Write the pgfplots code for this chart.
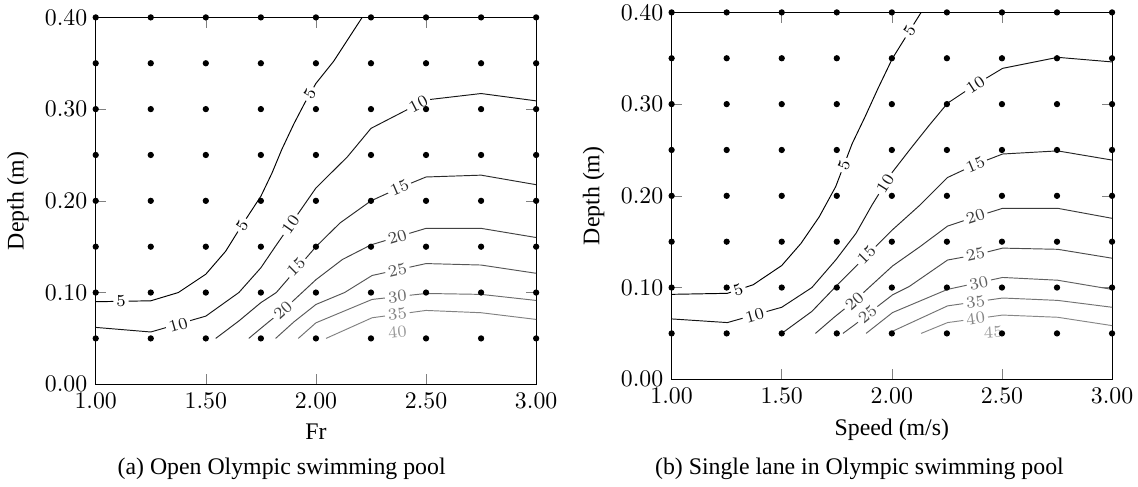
\documentclass[border=0pt]{standalone}
\usepackage{fontspec}
\setmainfont{Liberation Serif}
\usepackage{pgfplots}
\pgfplotsset{compat=1.18}

\newcommand{\clab}[6]{\addplot[draw=none,mark=none] coordinates {(#1,#2) (#3,#4)} node[pos=0.5,sloped,fill=white,inner sep=1.2pt,font=\scriptsize,text=#5]{$#6$};}

\newcommand{\griddots}{%
\addplot[only marks, mark=*, mark size=1.1pt, black] coordinates {
(1.00,0.05) (1.25,0.05) (1.50,0.05) (1.75,0.05) (2.00,0.05) (2.25,0.05) (2.50,0.05) (2.75,0.05) (3.00,0.05)
(1.00,0.10) (1.25,0.10) (1.50,0.10) (1.75,0.10) (2.00,0.10) (2.25,0.10) (2.50,0.10) (2.75,0.10) (3.00,0.10)
(1.00,0.15) (1.25,0.15) (1.50,0.15) (1.75,0.15) (2.00,0.15) (2.25,0.15) (2.50,0.15) (2.75,0.15) (3.00,0.15)
(1.00,0.20) (1.25,0.20) (1.50,0.20) (1.75,0.20) (2.00,0.20) (2.25,0.20) (2.50,0.20) (2.75,0.20) (3.00,0.20)
(1.00,0.25) (1.25,0.25) (1.50,0.25) (1.75,0.25) (2.00,0.25) (2.25,0.25) (2.50,0.25) (2.75,0.25) (3.00,0.25)
(1.00,0.30) (1.25,0.30) (1.50,0.30) (1.75,0.30) (2.00,0.30) (2.25,0.30) (2.50,0.30) (2.75,0.30) (3.00,0.30)
(1.00,0.35) (1.25,0.35) (1.50,0.35) (1.75,0.35) (2.00,0.35) (2.25,0.35) (2.50,0.35) (2.75,0.35) (3.00,0.35)
(1.00,0.40) (1.25,0.40) (1.50,0.40) (1.75,0.40) (2.00,0.40) (2.25,0.40) (2.50,0.40) (2.75,0.40) (3.00,0.40)
};}

\pgfplotsset{
  myaxis/.style={
    scale only axis, width=185pt, height=154.1pt,
    xmin=1, xmax=3, ymin=0, ymax=0.4,
    xtick={1,1.5,2,2.5,3}, ytick={0,0.1,0.2,0.3,0.4},
    xticklabel={\pgfmathprintnumber[fixed,fixed zerofill,precision=2]{\tick}},
    yticklabel={\pgfmathprintnumber[fixed,fixed zerofill,precision=2]{\tick}},
    tick style={color=gray},
    ylabel={Depth (m)},
    clip=false,
  },
}

\begin{document}
\begin{tikzpicture}
\useasboundingbox (-40.2pt,-43.1pt) rectangle (437.8pt,161.4pt);

% ---------------- (a) ----------------
\begin{axis}[myaxis, xlabel={Fr}]
\addplot[black] coordinates {(1.00,0.090) (1.25,0.091) (1.375,0.100) (1.50,0.120) (1.59,0.145) (1.66,0.172) (1.75,0.205) (1.80,0.230) (1.845,0.256) (1.90,0.284) (1.95,0.307) (2.00,0.328) (2.08,0.352) (2.21,0.40)};
\addplot[black!91] coordinates {(1.00,0.062) (1.25,0.057) (1.50,0.0743) (1.65,0.100) (1.75,0.127) (1.815,0.150) (2.00,0.214) (2.143,0.248) (2.25,0.279) (2.50,0.310) (2.75,0.317) (3.00,0.309)};
\addplot[black!83] coordinates {(1.545,0.05) (1.65,0.069) (1.75,0.089) (1.82,0.100) (2.00,0.150) (2.11,0.176) (2.25,0.200) (2.378,0.214) (2.50,0.226) (2.75,0.228) (3.00,0.2176)};
\addplot[black!74] coordinates {(1.695,0.05) (1.76,0.063) (1.852,0.081) (2.00,0.114) (2.12,0.136) (2.25,0.152) (2.50,0.170) (2.75,0.170) (3.00,0.160)};
\addplot[black!66] coordinates {(1.817,0.05) (1.90,0.068) (2.00,0.087) (2.13,0.100) (2.255,0.1186) (2.50,0.1316) (2.75,0.130) (3.00,0.121)};
\addplot[black!57] coordinates {(1.92,0.05) (2.00,0.067) (2.255,0.0925) (2.50,0.099) (2.75,0.098) (3.00,0.0914)};
\addplot[black!49] coordinates {(2.046,0.05) (2.255,0.0725) (2.50,0.0805) (2.75,0.078) (3.00,0.0707)};
\clab{1.08}{0.0904}{1.15}{0.0907}{black}{5}
\clab{1.62}{0.1566}{1.71}{0.1903}{black}{5}
\clab{1.945}{0.305}{2.00}{0.328}{black}{5}
\clab{1.33}{0.0615}{1.42}{0.0677}{black!91}{10}
\clab{1.85}{0.162}{1.92}{0.186}{black!91}{10}
\clab{2.43}{0.3013}{2.50}{0.310}{black!91}{10}
\clab{1.87}{0.1185}{1.95}{0.1375}{black!83}{15}
\clab{2.34}{0.2098}{2.42}{0.2181}{black!83}{15}
\clab{1.81}{0.0723}{1.89}{0.0894}{black!74}{20}
\clab{2.33}{0.1578}{2.41}{0.1635}{black!74}{20}
\clab{2.33}{0.1225}{2.41}{0.1268}{black!66}{25}
\clab{2.33}{0.0945}{2.41}{0.0966}{black!57}{30}
\clab{2.33}{0.0750}{2.41}{0.0776}{black!49}{35}
\clab{2.33}{0.0560}{2.41}{0.0580}{black!40}{40}
\griddots
\end{axis}
\node[anchor=base] at (78.1pt,-38.1pt) {(a) Open Olympic swimming pool};

% ---------------- (b) ----------------
\begin{axis}[myaxis, xlabel={Speed (m/s)}, at={(241.9pt,2.1pt)}]
\addplot[black] coordinates {(1.00,0.0926) (1.253,0.0937) (1.37,0.103) (1.50,0.124) (1.587,0.148) (1.67,0.177) (1.745,0.210) (1.82,0.257) (1.878,0.286) (1.937,0.317) (2.003,0.350) (2.133,0.40)};
\addplot[black!92] coordinates {(1.00,0.0658) (1.253,0.0618) (1.50,0.0785) (1.637,0.100) (1.745,0.130) (1.837,0.159) (1.91,0.19) (2.003,0.226) (2.087,0.252) (2.17,0.277) (2.253,0.301) (2.378,0.321) (2.503,0.339) (2.753,0.351) (3.00,0.346)};
\addplot[black!85] coordinates {(1.50,0.050) (1.637,0.074) (1.745,0.101) (2.003,0.163) (2.128,0.190) (2.253,0.220) (2.378,0.234) (2.503,0.2456) (2.753,0.249) (3.00,0.239)};
\addplot[black!77] coordinates {(1.653,0.050) (1.74,0.068) (1.828,0.085) (2.003,0.1235) (2.128,0.1446) (2.253,0.167) (2.378,0.177) (2.503,0.1864) (2.753,0.1864) (3.00,0.1755)};
\addplot[black!70] coordinates {(1.778,0.050) (1.84,0.061) (1.895,0.072) (2.003,0.092) (2.078,0.101) (2.253,0.130) (2.378,0.1355) (2.503,0.143) (2.753,0.1417) (3.00,0.132)};
\addplot[black!62] coordinates {(1.883,0.050) (2.003,0.0727) (2.253,0.098) (2.503,0.111) (2.753,0.108) (3.00,0.098)};
\addplot[black!55] coordinates {(2.00,0.052) (2.253,0.080) (2.503,0.0886) (2.753,0.086) (3.00,0.0785)};
\addplot[black!47] coordinates {(2.133,0.050) (2.253,0.0618) (2.503,0.070) (2.753,0.0676) (3.00,0.0585)};
\clab{1.27}{0.0951}{1.335}{0.1003}{black}{5}
\clab{1.765}{0.2225}{1.80}{0.2445}{black}{5}
\clab{2.06}{0.372}{2.10}{0.3875}{black}{5}
\clab{1.345}{0.0675}{1.41}{0.0719}{black!92}{10}
\clab{1.95}{0.2058}{1.99}{0.221}{black!92}{10}
\clab{2.34}{0.315}{2.42}{0.3276}{black!92}{10}
\clab{1.85}{0.1271}{1.92}{0.1440}{black!85}{15}
\clab{2.34}{0.2297}{2.42}{0.2379}{black!85}{15}
\clab{1.79}{0.0766}{1.87}{0.0935}{black!77}{20}
\clab{2.34}{0.1740}{2.42}{0.1802}{black!77}{20}
\clab{1.86}{0.0650}{1.92}{0.0766}{black!70}{25}
\clab{2.34}{0.1338}{2.42}{0.1379}{black!70}{25}
\clab{2.355}{0.1031}{2.435}{0.1073}{black!62}{30}
\clab{2.34}{0.0828}{2.42}{0.0855}{black!55}{35}
\clab{2.34}{0.0650}{2.42}{0.0677}{black!47}{40}
\clab{2.43}{0.0505}{2.49}{0.0515}{black!40}{45}
\griddots
\end{axis}
\node[anchor=base] at (320.8pt,-38.1pt) {(b) Single lane in Olympic swimming pool};
\end{tikzpicture}
\end{document}
